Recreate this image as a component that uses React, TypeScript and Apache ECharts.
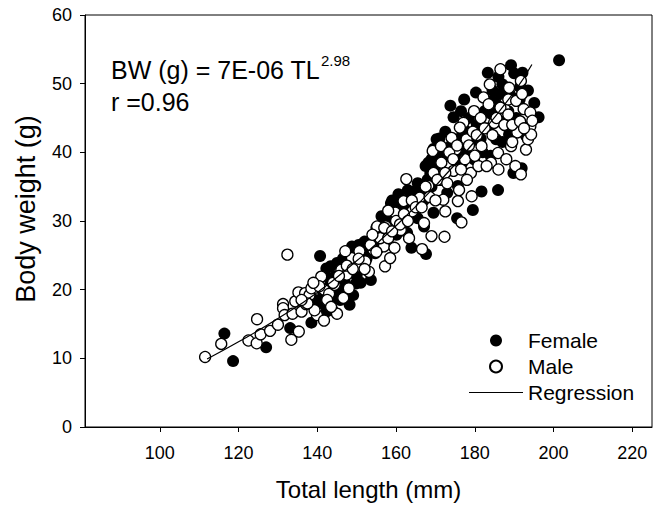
import React, { useEffect, useRef } from "react";
import * as echarts from "echarts";

const xTickValues = [100, 120, 140, 160, 180, 200, 220];

const female: number[][] = [
  [118.6, 9.6], [116.4, 13.6], [127, 11.6], [140.7, 24.9], [133.1, 14.4], [138.5, 15.2], [141.2, 18.0],
  [142.3, 16.8], [142.3, 23.1], [143.4, 23.4], [144.4, 21.9], [143.9, 17.0], [145.8, 18.5], [145.5, 21.9],
  [145, 23.9], [148.2, 17.8], [149.1, 19.2], [149.8, 20.9], [148.8, 26.3], [151.5, 23.9], [151.8, 26.3],
  [153.6, 21.4], [153.9, 27.3], [154.7, 25.3], [156.3, 30.7], [156.1, 28.3], [157.9, 27.3], [158.7, 32.6],
  [160.6, 33.9], [160.1, 28], [161.7, 31.2], [162.8, 28.3], [163.9, 26.1], [164.7, 34.3], [165.5, 30.4],
  [167.6, 25.2], [167.1, 29.2], [168.2, 38.5], [168.7, 37.0], [169.5, 31.2], [170.3, 41.9], [170.9, 39.5],
  [173, 34.1], [173.8, 46.8], [174.6, 45.1], [175.7, 35.1], [175.5, 30.4], [177.3, 47.7], [178.4, 39.5],
  [179.5, 31.6], [180.3, 48.7], [181.1, 43.1], [181.7, 34.3], [183.3, 51.6], [184.4, 47.5], [185.4, 41.9],
  [185.9, 34.5], [187, 49.9], [188.1, 43.8], [189.2, 52.7], [189.8, 37.0], [191.4, 47.7], [191.9, 37.7],
  [192.1, 51.6], [193, 42.4], [195.1, 47.2], [196.2, 45.1], [201.4, 53.4], [188.7, 42.6], [186.5, 48.5],
  [183.3, 45.8], [179.8, 39.0], [176.8, 38.5],
  [141.5, 19.5], [143, 20.5], [144.5, 19], [146, 20], [147, 21], [148.5, 22.5], [150, 22], [151, 21],
  [152.5, 24.5], [146.5, 24.5], [142, 22], [139.5, 18.5],
  [153, 25.5], [154.5, 27], [155.5, 26], [156.5, 28.5], [157.5, 30], [158.5, 29], [159.5, 30.5], [160.5, 32],
  [161.5, 30], [162.5, 33], [163.5, 32], [164.5, 31.5], [155, 29], [152, 27],
  [166, 34], [167, 33], [168, 36], [169, 35], [170, 38], [171, 36.5], [172, 40], [173, 38.5], [174, 41],
  [175, 39], [176, 42], [177, 40], [178, 43], [179, 41.5], [171, 42], [169.5, 40.5],
  [180.5, 44], [181.5, 42], [182.5, 46], [183.5, 43.5], [184.5, 45.5], [185.5, 47], [186.5, 44.5],
  [187.5, 49], [188.5, 46], [189.5, 48], [190.5, 45], [191.5, 49.5], [182, 40], [184, 39.5], [187, 41.5],
  [167.5, 38], [169, 39], [170.5, 40], [165.5, 35.5], [163, 34.5], [159, 33], [150.5, 26.5], [147.5, 25],
  [186, 51], [184.5, 49], [178.5, 45], [176.5, 46], [172.5, 43], [190, 51.5], [193.5, 49],
];

const male: number[][] = [
  [111.5, 10.2], [115.6, 12.1], [124.7, 15.7], [122.5, 12.6], [124.6, 12.2], [125.6, 13.5], [128, 14.0],
  [130, 14.9], [132.4, 25.1], [133.4, 12.7], [135.3, 13.9], [131.3, 17.9], [131.3, 17.3], [131.7, 16.3],
  [133.7, 16.5], [134.4, 18.3], [135.2, 19.6], [136, 16.8], [136.9, 19.5], [138, 19.2], [137.1, 17.9],
  [139.9, 16.3], [139.3, 17.0], [138.5, 20.2], [141.7, 15.5], [141, 21.9], [141.7, 20], [143, 19.4],
  [144.4, 20.7], [145, 16.5], [146.1, 22.9], [146.6, 18.8], [148, 20.2], [147.5, 22.2], [148.8, 24.6],
  [147.1, 25.6], [150.4, 23.4], [150.7, 25.6], [152.2, 24.1], [153.1, 22.6], [154.2, 25.8], [155.2, 29.2],
  [156.9, 26.3], [157.4, 29.2], [157.2, 23.4], [158.5, 24.6], [159.8, 31.2], [161.2, 28.7], [159.6, 26.1],
  [161.9, 32.9], [162.6, 36.1], [163.3, 27.5], [164.1, 31.4], [166, 33.4], [166.6, 25.9], [167.1, 29.7],
  [168.2, 35.1], [169, 27.8], [169.3, 40.2], [171.4, 40.9], [171.4, 36.0], [172, 33.1], [172.3, 27.7],
  [172.5, 31.4], [173.6, 38.0], [174.1, 42.1], [175.2, 40.4], [174.6, 37.3], [175.7, 32.9], [176.6, 29.8],
  [177.1, 44.3], [177.9, 41.9], [179, 37.0], [179.2, 33.6], [179.8, 46.0], [181.7, 40.9], [180.9, 38.0],
  [182.2, 48.0], [183.8, 49.9], [184.9, 44.3], [184.1, 38.5], [185.9, 39.9], [186.5, 52.1], [187.6, 46.3],
  [188.7, 49.4], [188.5, 47.7], [189.2, 40.9], [190.3, 38.0], [190.8, 42.9], [191.7, 36.8], [191.7, 50.4],
  [192.4, 46.3], [193, 40.4], [193.5, 41.9], [194.1, 43.8], [194.1, 45.8], [194.6, 44.6], [194.3, 42.6],
  [176.2, 43.6],
  [140.5, 20.5], [142.5, 18.5], [144, 21], [145.5, 22], [147.5, 23.5], [149, 23], [150.5, 24.5], [152, 23],
  [139, 21], [137.5, 18], [136, 18.5], [143.5, 17.5],
  [153.5, 26.5], [155, 25.5], [156, 27.5], [157, 29], [158, 27.5], [159, 28.5], [160, 30], [161, 29.5],
  [162, 31], [163, 30], [164, 33], [165, 32], [154, 28], [158, 31.5],
  [166.5, 32], [167.5, 35], [168.5, 33.5], [169.5, 37], [170.5, 36], [171.5, 38.5], [172.5, 37], [173.5, 40],
  [174.5, 39], [175.5, 41], [176.5, 37.5], [177.5, 39], [178.5, 41], [179.5, 43], [170, 33], [173, 35.5],
  [176, 34.5], [178, 36],
  [180.5, 42.5], [181.5, 45], [182.5, 43.5], [183.5, 47], [184.5, 42.5], [185.5, 45], [186.5, 46.5],
  [187.5, 44], [188.5, 45.5], [189.5, 44], [190.5, 47.5], [191.5, 44.5], [192.5, 43.5], [180, 39.5],
  [183, 38], [186, 37.5], [188, 39], [189.5, 41.5], [192, 48.5],
];

const regression: number[][] = [
  [112, 9.9], [120, 12.4], [130, 15.8], [140, 19.6], [150, 24.2], [160, 29.3], [170, 35.1],
  [180, 41.6], [190, 48.8], [194.5, 52.8],
];

const FONT = "'Liberation Sans', Arial, Helvetica, sans-serif";

export default function App() {
  const ref = useRef<HTMLDivElement>(null);
  useEffect(() => {
    if (!ref.current) return;
    const chart = echarts.init(ref.current, undefined, { renderer: "svg" });
    chart.setOption({
      animation: false,
      backgroundColor: "#fff",
      textStyle: { fontFamily: FONT },
      grid: {
        left: 85, top: 15, right: 14, bottom: 81,
        show: true, borderColor: "#000", borderWidth: 1,
      },
      xAxis: {
        type: "value", min: 81, max: 225,
        splitLine: { show: false },
        axisLine: { show: true, onZero: false, lineStyle: { color: "#000", width: 1 } },
        axisTick: { show: true, inside: false, length: 5, customValues: xTickValues, lineStyle: { color: "#000" } },
        axisLabel: { customValues: xTickValues, fontSize: 18, color: "#000", margin: 17, fontFamily: FONT },
        name: "Total length (mm)", nameLocation: "middle", nameGap: 50,
        nameTextStyle: { fontSize: 24, color: "#000", fontFamily: FONT },
      },
      yAxis: {
        type: "value", min: 0, max: 60, interval: 10,
        splitLine: { show: false },
        axisLine: { show: true, lineStyle: { color: "#000", width: 1 } },
        axisTick: { show: true, inside: false, length: 5, lineStyle: { color: "#000" } },
        axisLabel: { fontSize: 18, color: "#000", margin: 13, fontFamily: FONT },
        name: "Body weight (g)", nameLocation: "middle", nameGap: 46,
        nameTextStyle: { fontSize: 27, color: "#000", fontFamily: FONT, padding: [0, 0, 0, 24] },
      },
      legend: {
        orient: "vertical", left: 464, top: 325,
        itemWidth: 54, itemHeight: 12, itemGap: 5,
        textStyle: { fontSize: 21, color: "#000", fontFamily: FONT, lineHeight: 20 },
        data: [
          { name: "Female", icon: "circle" },
          { name: "Male", icon: "circle" },
          { name: "Regression", icon: "path://M0,0H45V1H0Z", itemStyle: { color: "#000" } },
        ],
      },
      graphic: [
        {
          type: "text", x: 111, y: 70,
          style: { text: "BW (g) = 7E-06 TL", fontSize: 25, fill: "#000", fontFamily: FONT, verticalAlign: "middle" },
        },
        {
          type: "text", x: 321, y: 60,
          style: { text: "2.98", fontSize: 15, fill: "#000", fontFamily: FONT, verticalAlign: "middle" },
        },
        {
          type: "text", x: 111, y: 102,
          style: { text: "r =0.96", fontSize: 25, fill: "#000", fontFamily: FONT, verticalAlign: "middle" },
        },
      ],
      series: [
        {
          name: "Female", type: "scatter", data: female, symbol: "circle", symbolSize: 12,
          itemStyle: { color: "#000", opacity: 1 }, z: 2,
        },
        {
          name: "Male", type: "scatter", data: male, symbol: "circle", symbolSize: 11,
          itemStyle: { color: "#fff", borderColor: "#000", borderWidth: 1.3, opacity: 1 }, z: 3,
        },
        {
          name: "Regression", type: "line", data: regression, symbol: "none", smooth: true,
          lineStyle: { color: "#000", width: 1.2 }, itemStyle: { color: "#000" }, z: 4,
        },
      ],
    });
    return () => chart.dispose();
  }, []);
  return (
    <div
      ref={ref}
      style={{ position: "fixed", left: 0, top: 0, width: 666, height: 508, background: "#fff" }}
    />
  );
}
